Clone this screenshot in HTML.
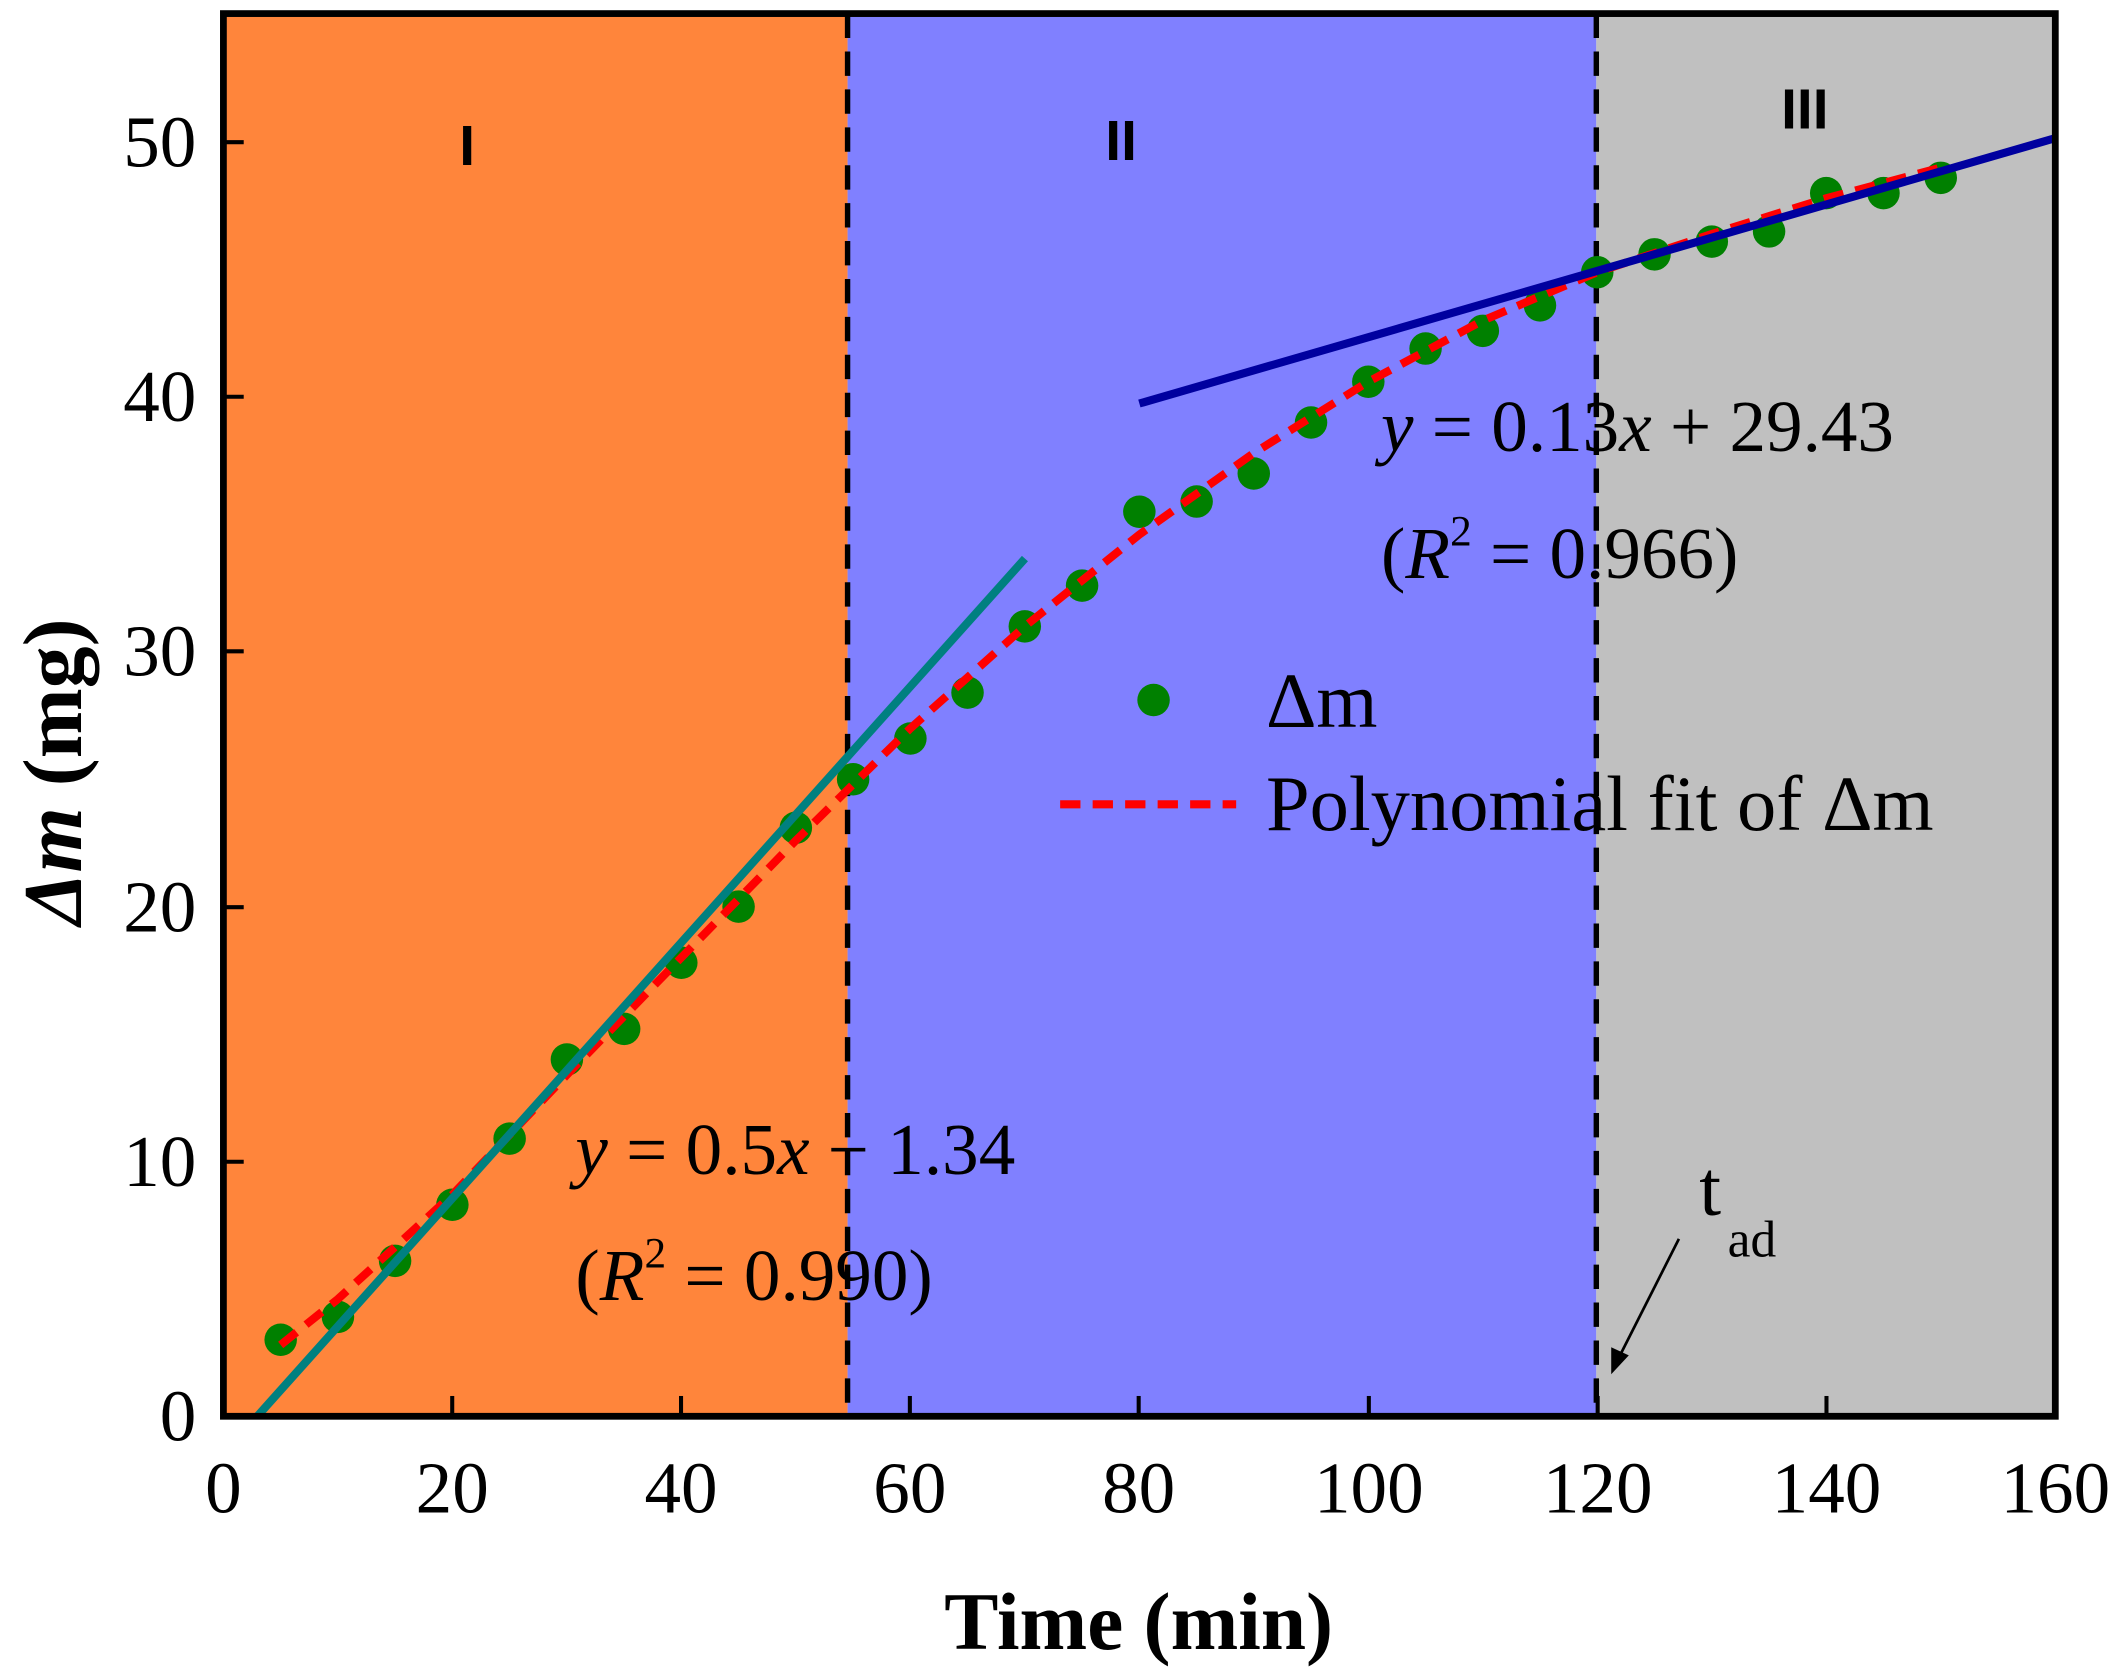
<!DOCTYPE html>
<html><head><style>html,body{margin:0;padding:0;background:#fff}svg{display:block}</style></head>
<body>
<svg width="2123" height="1679" viewBox="0 0 1568 1240" xmlns="http://www.w3.org/2000/svg" font-family="Liberation Serif, serif">
<rect x="165" y="10" width="461" height="1036" fill="#FF853B"/>
<rect x="626" y="10" width="553" height="1036" fill="#8080FF"/>
<rect x="1179" y="10" width="339" height="1036" fill="#C0C0C0"/>
<line x1="626" y1="10" x2="626" y2="1046" stroke="#000" stroke-width="4" stroke-dasharray="18,10"/>
<line x1="1179" y1="10" x2="1179" y2="1046" stroke="#000" stroke-width="4" stroke-dasharray="18,10"/>
<g fill="#008000">
<circle cx="207.3" cy="989.5" r="12"/><circle cx="249.6" cy="972.6" r="12"/><circle cx="291.8" cy="931.2" r="12"/><circle cx="334.1" cy="889.8" r="12"/><circle cx="376.4" cy="840.9" r="12"/><circle cx="418.7" cy="782.5" r="12"/><circle cx="461" cy="759.9" r="12"/><circle cx="503.2" cy="711" r="12"/><circle cx="545.5" cy="669.6" r="12"/><circle cx="587.8" cy="611.3" r="12"/><circle cx="630.1" cy="575.5" r="12"/><circle cx="672.4" cy="545.4" r="12"/><circle cx="714.6" cy="511.5" r="12"/><circle cx="756.9" cy="462.6" r="12"/><circle cx="799.2" cy="432.5" r="12"/><circle cx="841.5" cy="377.9" r="12"/><circle cx="883.8" cy="370.4" r="12"/><circle cx="926" cy="349.7" r="12"/><circle cx="968.3" cy="312" r="12"/><circle cx="1010.6" cy="281.9" r="12"/><circle cx="1052.9" cy="257.4" r="12"/><circle cx="1095.2" cy="244.3" r="12"/><circle cx="1137.4" cy="225.5" r="12"/><circle cx="1179.7" cy="201" r="12"/><circle cx="1222" cy="187.8" r="12"/><circle cx="1264.3" cy="178.4" r="12"/><circle cx="1306.6" cy="170.9" r="12"/><circle cx="1348.8" cy="142.6" r="12"/><circle cx="1391.1" cy="142.6" r="12"/><circle cx="1433.4" cy="131.3" r="12"/>
</g>
<polyline fill="none" stroke="#FF0000" stroke-width="6" stroke-dasharray="15,9" points="207.3,993.3 249.6,959.4 334.1,882.3 418.7,793.8 503.2,707.2 587.8,620.7 630.1,579.3 672.4,537.9 756.9,462.6 841.5,394.8 926,334.6 1010.6,281.9 1095.2,236.7 1179.7,201 1264.3,172.8 1348.8,146.4 1433.4,123.8"/>
<line x1="190" y1="1046" x2="757" y2="412.5" stroke="#008080" stroke-width="6"/>
<line x1="841.5" y1="298" x2="1518" y2="102" stroke="#00009F" stroke-width="6"/>
<rect x="165" y="10" width="1353" height="1036" fill="none" stroke="#000" stroke-width="5"/>
<g stroke="#000" stroke-width="3">
<line x1="334" y1="1046" x2="334" y2="1031"/><line x1="503" y1="1046" x2="503" y2="1031"/><line x1="672" y1="1046" x2="672" y2="1031"/><line x1="841" y1="1046" x2="841" y2="1031"/><line x1="1011" y1="1046" x2="1011" y2="1031"/><line x1="1180" y1="1046" x2="1180" y2="1031"/><line x1="1349" y1="1046" x2="1349" y2="1031"/>
<line x1="165" y1="858" x2="180" y2="858"/><line x1="165" y1="670" x2="180" y2="670"/><line x1="165" y1="481" x2="180" y2="481"/><line x1="165" y1="293" x2="180" y2="293"/><line x1="165" y1="105" x2="180" y2="105"/>
</g>
<g font-size="54" text-anchor="middle" fill="#000">
<text x="165" y="1117">0</text><text x="334" y="1117">20</text><text x="503" y="1117">40</text><text x="672" y="1117">60</text><text x="841" y="1117">80</text><text x="1011" y="1117">100</text><text x="1180" y="1117">120</text><text x="1349" y="1117">140</text><text x="1518" y="1117">160</text>
</g>
<g font-size="54" text-anchor="end" fill="#000">
<text x="145" y="1064">0</text><text x="145" y="876">10</text><text x="145" y="688">20</text><text x="145" y="499">30</text><text x="145" y="311">40</text><text x="145" y="123">50</text>
</g>
<text x="841" y="1218" font-size="60" font-weight="bold" text-anchor="middle">Time (min)</text>
<text transform="translate(60,570) rotate(-90)" font-size="62" font-weight="bold" text-anchor="middle"><tspan font-style="italic">Δm</tspan> (mg)</text>
<g font-family="Liberation Sans, sans-serif" font-size="42" font-weight="bold" text-anchor="middle">
<text x="345" y="122">I</text><text x="828" y="118">II</text><text x="1333" y="95">III</text>
</g>
<g font-size="54">
<text x="1020" y="333"><tspan font-style="italic">y</tspan> = 0.13<tspan font-style="italic">x</tspan> + 29.43</text>
<text x="1020" y="427">(<tspan font-style="italic">R</tspan><tspan font-size="32" dy="-24">2</tspan><tspan dy="24"> = 0.966)</tspan></text>
<text x="425" y="867"><tspan font-style="italic">y</tspan> = 0.5<tspan font-style="italic">x</tspan> − 1.34</text>
<text x="425" y="960">(<tspan font-style="italic">R</tspan><tspan font-size="32" dy="-24">2</tspan><tspan dy="24"> = 0.990)</tspan></text>
</g>
<circle cx="852" cy="517" r="12" fill="#008000"/>
<text x="935" y="537" font-size="58">Δm</text>
<line x1="783" y1="594" x2="913" y2="594" stroke="#FF0000" stroke-width="6" stroke-dasharray="15,9"/>
<text x="935" y="613" font-size="58">Polynomial fit of Δm</text>
<text x="1255" y="897" font-size="58">t</text>
<text x="1276" y="928" font-size="38">ad</text>
<line x1="1240" y1="915" x2="1197" y2="1000" stroke="#000" stroke-width="2"/>
<polygon points="1190,1015 1190,995 1203,1001" fill="#000"/>
</svg>
</body></html>
